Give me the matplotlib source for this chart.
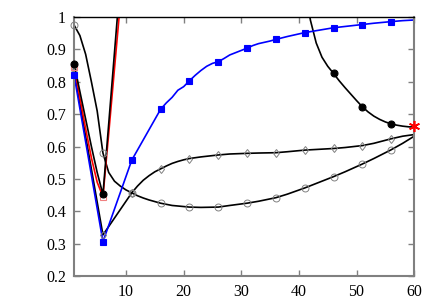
import matplotlib
matplotlib.use('Agg')
import matplotlib.pyplot as plt
import numpy as np

plt.rcParams['font.family'] = ['Liberation Serif', 'DejaVu Serif']

# blue series (filled squares)
x_blue = [1, 6, 11, 16, 17, 18, 19, 20, 21, 22, 23, 24, 25, 26, 27, 28, 29, 30, 31,
          32, 33, 34, 35, 36, 38, 41, 43, 46, 48, 51, 53, 56, 58, 60]
y_blue = [0.82, 0.306, 0.558, 0.715, 0.735, 0.752, 0.774, 0.785, 0.803, 0.82, 0.835,
          0.848, 0.857, 0.862, 0.872, 0.883, 0.89, 0.897, 0.904, 0.912, 0.918, 0.922,
          0.926, 0.931, 0.94, 0.952, 0.958, 0.967, 0.971, 0.977, 0.981, 0.986, 0.989, 0.991]

# black series (filled circles)
x_fill = [1, 2, 3, 4, 5, 6, 7, 8, 9, 11, 21, 31, 40, 41, 42, 43, 44, 45, 46, 47, 48, 49,
          50, 51, 52, 53, 54, 55, 56, 57, 58, 59, 60]
y_fill = [0.855, 0.77, 0.685, 0.6, 0.52, 0.452, 0.67, 0.89, 1.11, 1.5, 1.6, 1.4, 1.2,
          1.09, 0.99, 0.92, 0.876, 0.848, 0.826, 0.803, 0.782, 0.762, 0.742, 0.723,
          0.707, 0.694, 0.684, 0.676, 0.67, 0.666, 0.663, 0.661, 0.66]

# red series (open squares)
x_red = [1, 2, 3, 4, 5, 6, 7, 8, 9, 11]
y_red = [0.845, 0.75, 0.655, 0.565, 0.49, 0.445, 0.64, 0.84, 1.04, 1.44]

# black series (open circles)
x_circ = [1, 2, 3, 4, 5, 6, 7, 8, 9, 10, 11, 12, 13, 14, 15, 16, 18, 21, 23, 26, 28,
          31, 33, 36, 38, 41, 43, 46, 48, 51, 53, 56, 58, 60]
y_circ = [0.975, 0.943, 0.885, 0.8, 0.71, 0.58, 0.52, 0.493, 0.478, 0.466, 0.457, 0.448,
          0.441, 0.435, 0.43, 0.425, 0.418, 0.413, 0.412, 0.413, 0.418, 0.425, 0.431,
          0.442, 0.453, 0.472, 0.486, 0.507, 0.522, 0.546, 0.563, 0.59, 0.61, 0.632]

# black series (open diamonds)
x_diam = [1, 6, 11, 12, 13, 14, 15, 16, 17, 18, 19, 20, 21, 23, 26, 28, 31, 33, 36, 38,
          41, 43, 46, 48, 51, 53, 56, 58, 60]
y_diam = [0.835, 0.327, 0.457, 0.478, 0.496, 0.51, 0.522, 0.531, 0.54, 0.548, 0.554,
          0.559, 0.563, 0.568, 0.574, 0.577, 0.579, 0.58, 0.581, 0.584, 0.589, 0.591,
          0.594, 0.597, 0.603, 0.61, 0.624, 0.632, 0.637]

# single red star
x_star = [60]
y_star = [0.662]

mark_x = [1, 6, 11, 16, 21, 26, 31, 36, 41, 46, 51, 56]

fig = plt.figure(figsize=(4.36, 3.05), dpi=100)
ax = fig.add_axes([0.17, 0.095, 0.78, 0.849])

def draw(xs, ys, color, mk, ms, mfc, mec, mew=0.8):
    ax.plot(xs, ys, '-', color=color, lw=1.2, zorder=2)
    mx = [x for x, y in zip(xs, ys) if x in mark_x and y <= 1.0]
    my = [y for x, y in zip(xs, ys) if x in mark_x and y <= 1.0]
    ax.plot(mx, my, ls='none', marker=mk, ms=ms, mfc=mfc, mec=mec, mew=mew,
            clip_on=False, zorder=3)

draw(x_circ, y_circ, 'black', 'o', 5, 'none', 'gray', 0.7)
draw(x_diam, y_diam, 'black', 'd', 4.5, 'none', 'gray', 0.7)
draw(x_red, y_red, 'red', 's', 4.5, 'none', '#f08080', 0.8)
draw(x_fill, y_fill, 'black', 'o', 5, 'black', 'black')
draw(x_blue, y_blue, 'blue', 's', 5, 'blue', 'blue')
ax.plot(x_star, y_star, ls='none', marker=(6, 2, 0), ms=8, color='red', mew=1.2,
        clip_on=False, zorder=4)

ax.set_xlim(1, 60)
ax.set_ylim(0.2, 1)
ax.set_xticks([10, 20, 30, 40, 50, 60])
ax.set_yticks([0.2, 0.3, 0.4, 0.5, 0.6, 0.7, 0.8, 0.9, 1])
ax.set_yticklabels(['0.2', '0.3', '0.4', '0.5', '0.6', '0.7', '0.8', '0.9', '1'])

for s in ['left', 'bottom', 'right']:
    ax.spines[s].set_color('gray')
    ax.spines[s].set_linewidth(1.5)
ax.spines['top'].set_color('black')
ax.spines['top'].set_linewidth(1.0)

ax.tick_params(direction='in', length=4, width=1, colors='gray', labelcolor='black',
               labelsize=11.5, top=True, right=True, pad=6)
for t in ax.xaxis.get_major_ticks():
    t.tick2line.set_color('black')

fig.savefig('out.png', dpi=100)
